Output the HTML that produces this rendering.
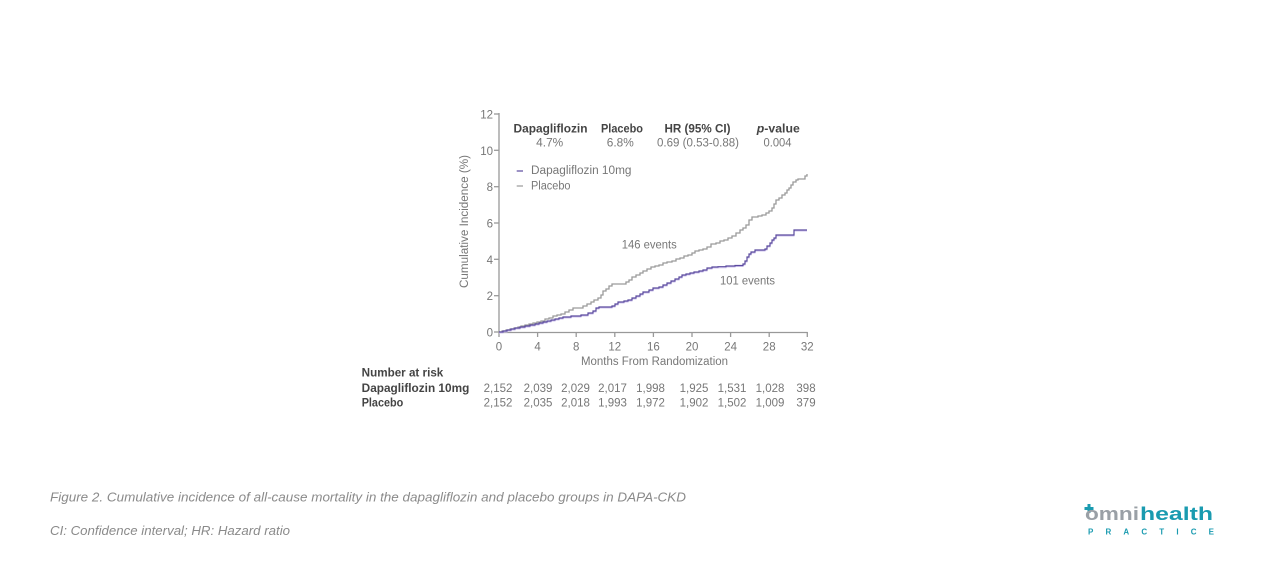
<!DOCTYPE html>
<html>
<head>
<meta charset="utf-8">
<style>
html,body{margin:0;padding:0;background:#fff;}
svg{display:block;}
text{font-family:"Liberation Sans",sans-serif;}
</style>
</head>
<body>
<svg width="1266" height="580" viewBox="0 0 1266 580" xmlns="http://www.w3.org/2000/svg">
<rect width="1266" height="580" fill="#fff"/>

<!-- axes -->
<g stroke="#999" stroke-width="1.3" fill="none">
  <line x1="499" y1="113" x2="499" y2="332.5"/>
  <line x1="498.5" y1="332.5" x2="807.5" y2="332.5"/>
  <line x1="494" y1="114" x2="499" y2="114"/>
  <line x1="494" y1="150.3" x2="499" y2="150.3"/>
  <line x1="494" y1="186.7" x2="499" y2="186.7"/>
  <line x1="494" y1="223" x2="499" y2="223"/>
  <line x1="494" y1="259.3" x2="499" y2="259.3"/>
  <line x1="494" y1="295.7" x2="499" y2="295.7"/>
  <line x1="494" y1="332" x2="499" y2="332"/>
  <line x1="499" y1="332" x2="499" y2="337"/>
  <line x1="537.6" y1="332" x2="537.6" y2="337"/>
  <line x1="576.2" y1="332" x2="576.2" y2="337"/>
  <line x1="614.8" y1="332" x2="614.8" y2="337"/>
  <line x1="653.4" y1="332" x2="653.4" y2="337"/>
  <line x1="692" y1="332" x2="692" y2="337"/>
  <line x1="730.6" y1="332" x2="730.6" y2="337"/>
  <line x1="769.2" y1="332" x2="769.2" y2="337"/>
  <line x1="807.3" y1="332" x2="807.3" y2="337"/>
</g>

<g fill="#777" font-size="11.5" text-anchor="end">
  <text x="493" y="118.5">12</text>
  <text x="493" y="154.8">10</text>
  <text x="493" y="191.2">8</text>
  <text x="493" y="227.5">6</text>
  <text x="493" y="263.8">4</text>
  <text x="493" y="300.2">2</text>
  <text x="493" y="336.5">0</text>
</g>
<g fill="#777" font-size="11.5" text-anchor="middle">
  <text x="499" y="350.7">0</text>
  <text x="537.6" y="350.7">4</text>
  <text x="576.2" y="350.7">8</text>
  <text x="614.8" y="350.7">12</text>
  <text x="653.4" y="350.7">16</text>
  <text x="692" y="350.7">20</text>
  <text x="730.6" y="350.7">24</text>
  <text x="769.2" y="350.7">28</text>
  <text x="807.3" y="350.7">32</text>
</g>
<text x="581" y="365" font-size="11.5" fill="#777" textLength="147" lengthAdjust="spacingAndGlyphs">Months From Randomization</text>
<text transform="translate(468,221.5) rotate(-90)" font-size="11.5" fill="#777" text-anchor="middle" textLength="133" lengthAdjust="spacingAndGlyphs">Cumulative Incidence (%)</text>

<g font-size="11.5" font-weight="bold" fill="#444" text-anchor="middle">
  <text x="550.5" y="132.3" textLength="74" lengthAdjust="spacingAndGlyphs">Dapagliflozin</text>
  <text x="622" y="132.3" textLength="42" lengthAdjust="spacingAndGlyphs">Placebo</text>
  <text x="697.5" y="132.3" textLength="66" lengthAdjust="spacingAndGlyphs">HR (95% CI)</text>
  <text x="778.3" y="132.3" textLength="43" lengthAdjust="spacingAndGlyphs"><tspan font-style="italic">p</tspan>-value</text>
</g>
<g font-size="11.5" fill="#777" text-anchor="middle">
  <text x="549.7" y="146.7" textLength="27" lengthAdjust="spacingAndGlyphs">4.7%</text>
  <text x="620.3" y="146.7" textLength="27" lengthAdjust="spacingAndGlyphs">6.8%</text>
  <text x="698" y="146.7" textLength="82" lengthAdjust="spacingAndGlyphs">0.69 (0.53-0.88)</text>
  <text x="777.5" y="146.7" textLength="28" lengthAdjust="spacingAndGlyphs">0.004</text>
</g>

<line x1="516.7" y1="171" x2="523" y2="171" stroke="#5a4a9e" stroke-width="1.2"/>
<line x1="516.7" y1="186" x2="523" y2="186" stroke="#999" stroke-width="1.2"/>
<text x="531" y="174" font-size="11.5" fill="#777" textLength="100.5" lengthAdjust="spacingAndGlyphs">Dapagliflozin 10mg</text>
<text x="531" y="189.3" font-size="11.5" fill="#777" textLength="39.5" lengthAdjust="spacingAndGlyphs">Placebo</text>

<text x="621.7" y="248.3" font-size="11.5" fill="#777" textLength="55" lengthAdjust="spacingAndGlyphs">146 events</text>
<text x="720" y="284.3" font-size="11.5" fill="#777" textLength="55" lengthAdjust="spacingAndGlyphs">101 events</text>

<path fill="none" stroke="#9a9a9a" stroke-width="1.3" d="M499,332 H502 V331 H506 V330 H510 V329 H514 V328 H518 V327 H521 V326 H525 V325 H529 V324 H533 V323 H537 V322 H541 V321 H545 V319 H549 V318 H553 V316 H557 V315 H561 V314 H565 V312 H569 V310 H573 V308 H583 V306 H587 V304 H591 V302 H594 V300 H598 V298 H601 V295 H603 V291 H606 V289 H609 V286 H612 V284 H626 V282 H629 V280 H632 V277 H636 V275 H640 V273 H643 V271 H647 V269 H651 V267 H655 V266 H659 V265 H663 V263 H667 V262 H672 V261 H676 V259 H680 V258 H684 V256 H688 V255 H692 V253 H695 V251 H699 V250 H703 V249 H707 V247 H711 V244 H716 V243 H720 V241 H724 V240 H728 V238 H732 V236 H736 V233 H740 V230 H743 V228 H746 V225 H749 V220 H752 V217 H758 V216 H762 V215 H766 V213 H769 V211 H772 V208 H774 V204 H776 V200 H779 V198 H782 V195 H785 V193 H787 V190 H789 V188 H791 V185 H793 V182 H796 V180 H798 V179 H805 V176 H807 V174"/>

<path fill="none" stroke="#cfc3ee" stroke-width="1" transform="translate(0,1)" d="M499,332 H503 V331 H507 V330 H511 V329 H515 V328 H520 V327 H525 V326 H530 V325 H535 V324 H539 V323 H543 V322 H547 V321 H551 V320 H555 V319 H559 V318 H563 V317 H571 V316 H581 V315 H588 V313 H593 V311 H596 V308 H599 V307 H612 V306 H615 V304 H618 V302 H624 V301 H628 V300 H632 V298 H636 V296 H640 V294 H643 V292 H649 V290 H653 V288 H659 V287 H663 V285 H667 V283 H671 V281 H675 V279 H679 V277 H682 V275 H686 V274 H690 V273 H694 V272 H699 V271 H703 V270 H707 V268 H712 V267 H718 V266.7 H726 V266 H735 V265.5 H743 V264 H745 V261 H747 V257 H749 V254 H751 V252 H755 V250 H765 V249 H767 V246 H770 V243 H772 V240 H774 V238 H776 V235 H794 V230 H807"/>
<path fill="none" stroke="#5a4a9e" stroke-width="1.2" d="M499,332 H503 V331 H507 V330 H511 V329 H515 V328 H520 V327 H525 V326 H530 V325 H535 V324 H539 V323 H543 V322 H547 V321 H551 V320 H555 V319 H559 V318 H563 V317 H571 V316 H581 V315 H588 V313 H593 V311 H596 V308 H599 V307 H612 V306 H615 V304 H618 V302 H624 V301 H628 V300 H632 V298 H636 V296 H640 V294 H643 V292 H649 V290 H653 V288 H659 V287 H663 V285 H667 V283 H671 V281 H675 V279 H679 V277 H682 V275 H686 V274 H690 V273 H694 V272 H699 V271 H703 V270 H707 V268 H712 V267 H718 V266.7 H726 V266 H735 V265.5 H743 V264 H745 V261 H747 V257 H749 V254 H751 V252 H755 V250 H765 V249 H767 V246 H770 V243 H772 V240 H774 V238 H776 V235 H794 V230 H807"/>

<g font-size="11.5" font-weight="bold" fill="#444">
  <text x="361.7" y="376.7" textLength="81.6" lengthAdjust="spacingAndGlyphs">Number at risk</text>
  <text x="361.7" y="392" textLength="107.6" lengthAdjust="spacingAndGlyphs">Dapagliflozin 10mg</text>
  <text x="361.7" y="406.7" textLength="41.6" lengthAdjust="spacingAndGlyphs">Placebo</text>
</g>
<g font-size="11.5" fill="#777" text-anchor="middle">
  <text x="498" y="392">2,152</text>
  <text x="538" y="392">2,039</text>
  <text x="575.5" y="392">2,029</text>
  <text x="612.5" y="392">2,017</text>
  <text x="650.5" y="392">1,998</text>
  <text x="694" y="392">1,925</text>
  <text x="732" y="392">1,531</text>
  <text x="770" y="392">1,028</text>
  <text x="806" y="392">398</text>
  <text x="498" y="406.7">2,152</text>
  <text x="538" y="406.7">2,035</text>
  <text x="575.5" y="406.7">2,018</text>
  <text x="612.5" y="406.7">1,993</text>
  <text x="650.5" y="406.7">1,972</text>
  <text x="694" y="406.7">1,902</text>
  <text x="732" y="406.7">1,502</text>
  <text x="770" y="406.7">1,009</text>
  <text x="806" y="406.7">379</text>
</g>

<text x="50" y="501.5" font-size="12.5" font-style="italic" fill="#8a8a8a" textLength="636" lengthAdjust="spacingAndGlyphs">Figure 2. Cumulative incidence of all-cause mortality in the dapagliflozin and placebo groups in DAPA-CKD</text>
<text x="50" y="535" font-size="12.5" font-style="italic" fill="#8a8a8a" textLength="240" lengthAdjust="spacingAndGlyphs">CI: Confidence interval; HR: Hazard ratio</text>

<g>
  <rect x="1087.5" y="504" width="3" height="9" fill="#1a9bb0"/>
  <rect x="1084.5" y="507" width="9" height="3" fill="#1a9bb0"/>
  <text x="1085" y="520" font-size="18" font-weight="bold" fill="#9aa0a6" textLength="54" lengthAdjust="spacingAndGlyphs">omni</text>
  <text x="1140" y="520" font-size="18" font-weight="bold" fill="#1a9bb0" textLength="73" lengthAdjust="spacingAndGlyphs">health</text>
  <text x="1088" y="534.5" font-size="8" font-weight="bold" fill="#1a9bb0" textLength="126" lengthAdjust="spacing">PRACTICE</text>
</g>
</svg>
</body>
</html>
